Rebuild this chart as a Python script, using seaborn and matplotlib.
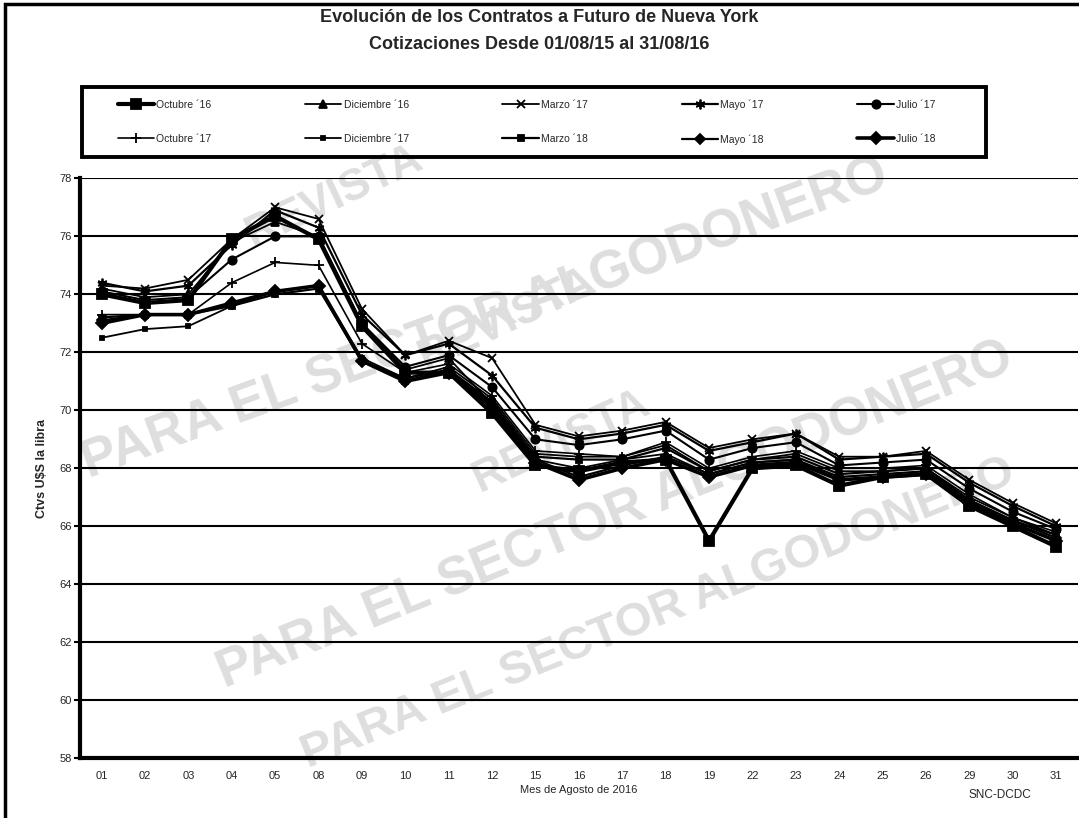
import pandas as pd
import matplotlib.pyplot as plt
import matplotlib.patches as mpatches
import seaborn as sns

# Días hábiles de agosto 2016
dias = ["01", "02", "03", "04", "05", "08", "09", "10", "11", "12", "15", "16",
        "17", "18", "19", "22", "23", "24", "25", "26", "29", "30", "31"]

octubre_16 = [74.0, 73.7, 73.8, 75.9, 76.7, 75.9, 72.9, 71.3, 71.3, 69.9, 68.1, 67.9,
              68.2, 68.3, 65.5, 68.0, 68.1, 67.4, 67.7, 67.8, 66.7, 66.0, 65.3]
diciembre_16 = [74.2, 73.9, 74.0, 75.8, 76.5, 76.0, 73.0, 71.4, 71.8, 70.2, 68.3, 68.0,
                68.3, 68.5, 67.8, 68.2, 68.3, 67.6, 67.7, 67.8, 66.8, 66.1, 65.5]
marzo_17 = [74.3, 74.2, 74.5, 75.9, 77.0, 76.6, 73.5, 71.9, 72.4, 71.8, 69.5, 69.1,
            69.3, 69.6, 68.7, 69.0, 69.2, 68.4, 68.4, 68.6, 67.6, 66.8, 66.1]
mayo_17 = [74.4, 74.1, 74.3, 75.7, 76.9, 76.3, 73.3, 71.9, 72.3, 71.2, 69.4, 69.0,
           69.2, 69.5, 68.6, 68.9, 69.2, 68.3, 68.4, 68.5, 67.5, 66.7, 66.0]
julio_17 = [74.1, 73.8, 73.9, 75.2, 76.0, 76.0, 73.0, 71.5, 71.9, 70.8, 69.0, 68.8,
            69.0, 69.3, 68.3, 68.7, 68.9, 68.1, 68.2, 68.3, 67.3, 66.5, 65.9]
octubre_17 = [73.3, 73.3, 73.3, 74.4, 75.1, 75.0, 72.3, 71.3, 71.6, 70.5, 68.6, 68.5,
              68.4, 68.9, 68.0, 68.4, 68.6, 68.0, 68.0, 68.1, 67.1, 66.3, 65.8]
diciembre_17 = [72.5, 72.8, 72.9, 73.6, 74.1, 74.3, 71.8, 71.1, 71.5, 70.4, 68.5, 68.4,
                68.4, 68.8, 67.9, 68.3, 68.5, 67.9, 67.9, 68.0, 67.0, 66.3, 65.7]
marzo_18 = [73.2, 73.3, 73.3, 73.6, 74.0, 74.2, 71.7, 71.0, 71.4, 70.3, 68.4, 68.3,
            68.3, 68.7, 67.9, 68.3, 68.4, 67.8, 67.9, 68.0, 66.9, 66.2, 65.7]
mayo_18 = [73.1, 73.3, 73.3, 73.7, 74.1, 74.3, 71.7, 71.1, 71.4, 70.2, 68.3, 67.7,
           68.1, 68.4, 67.8, 68.2, 68.3, 67.7, 67.8, 67.9, 66.9, 66.2, 65.6]
julio_18 = [73.0, 73.3, 73.3, 73.7, 74.1, 74.3, 71.7, 71.0, 71.3, 70.1, 68.2, 67.6,
            68.0, 68.3, 67.7, 68.1, 68.2, 67.6, 67.7, 67.8, 66.8, 66.1, 65.5]

series = {
    "Octubre ´16": octubre_16, "Diciembre ´16": diciembre_16, "Marzo ´17": marzo_17,
    "Mayo ´17": mayo_17, "Julio ´17": julio_17, "Octubre ´17": octubre_17,
    "Diciembre ´17": diciembre_17, "Marzo ´18": marzo_18, "Mayo ´18": mayo_18,
    "Julio ´18": julio_18,
}

# estilo de cada contrato: marcador, tamaño, grosor de linea
estilos = {
    "Octubre ´16": ("s", 7, 3.0),
    "Diciembre ´16": ("^", 6, 1.3),
    "Marzo ´17": ("x", 6, 1.3),
    "Mayo ´17": ((6, 2, 0), 7, 1.6),
    "Julio ´17": ("o", 6, 1.5),
    "Octubre ´17": ("+", 7, 1.2),
    "Diciembre ´17": ("s", 3, 1.3),
    "Marzo ´18": ("s", 4, 1.6),
    "Mayo ´18": ("D", 5, 1.6),
    "Julio ´18": ("D", 6, 2.6),
}

sns.set_style("white")
plt.rcParams["font.family"] = ["Liberation Sans", "DejaVu Sans"]

fig = plt.figure(figsize=(10.79, 8.18), dpi=100)
ax = fig.add_axes([0.074, 0.073, 0.925, 0.709])
ax.set_facecolor("none")

# marcas de agua (debajo de las lineas)
for (x, y, t, s, r) in [
    (0.31, 0.76, "REVISTA", 32, 25),
    (0.45, 0.61, "PARA EL SECTOR ALGODONERO", 38, 20),
    (0.47, 0.61, "REVISTA", 32, 25),
    (0.57, 0.37, "PARA EL SECTOR ALGODONERO", 38, 22),
    (0.52, 0.46, "REVISTA", 32, 25),
    (0.61, 0.25, "PARA EL SECTOR ALGODONERO", 34, 22),
]:
    fig.text(x, y, t, fontsize=s, rotation=r, color="#dedede", fontweight="bold",
             ha="center", va="center", zorder=-1)

for nombre, valores in series.items():
    m, ms, lw = estilos[nombre]
    df = pd.DataFrame({"dia": dias, "valor": valores})
    sns.lineplot(data=df, x="dia", y="valor", ax=ax, color="black", linewidth=lw,
                 marker=m, markersize=ms, markeredgecolor="black",
                 markeredgewidth=1.3, sort=False, label=nombre, zorder=3)

ax.set_xlim(-0.5, len(dias) - 0.5)
ax.set_ylim(58, 78)
ax.set_yticks(range(58, 79, 2))
ax.yaxis.grid(True, color="black", linewidth=1.5)
ax.xaxis.grid(False)
ax.set_xticks(range(len(dias)))
ax.set_xticklabels(dias, fontsize=8)
ax.set_xticks([i - 0.5 for i in range(len(dias) + 1)], minor=True)
ax.tick_params(axis="x", which="major", length=0, pad=9)
ax.tick_params(axis="x", which="minor", length=4, width=1.5, color="black", direction="out")
ax.tick_params(axis="y", labelsize=8, length=4, width=1.5, color="black", left=True, pad=2)
for lado in ["top", "right"]:
    ax.spines[lado].set_visible(False)
ax.spines["left"].set_linewidth(3)
ax.spines["bottom"].set_linewidth(3)
ax.spines["left"].set_color("black")
ax.spines["bottom"].set_color("black")
ax.set_xlabel("Mes de Agosto de 2016", fontsize=8, labelpad=3)
ax.set_ylabel("Ctvs U$S la libra", fontsize=9, fontweight="bold", labelpad=8)

# leyenda en filas, con marco aparte
handles, labels = ax.get_legend_handles_labels()
ax.get_legend().remove()
orden = [0, 5, 1, 6, 2, 7, 3, 8, 4, 9]
leg = fig.legend([handles[i] for i in orden], [labels[i] for i in orden],
                 loc="center", bbox_to_anchor=(0.109, 0.808, 0.758, 0.0856),
                 mode="expand", ncol=5, fontsize=7.5, frameon=False,
                 handlelength=3.5, handletextpad=0.2, borderpad=0,
                 borderaxespad=0, labelspacing=2.3)
fig.patches.append(mpatches.Rectangle((0.076, 0.808), 0.838, 0.0856, transform=fig.transFigure,
                                      fill=False, edgecolor="black", linewidth=2.8))

# titulo en dos lineas
fig.text(0.5, 0.979, "Evolución de los Contratos a Futuro de Nueva York",
         fontsize=13, fontweight="bold", ha="center", va="center")
fig.text(0.5, 0.946, "Cotizaciones Desde 01/08/15 al 31/08/16",
         fontsize=13, fontweight="bold", ha="center", va="center")
fig.text(0.927, 0.024, "SNC-DCDC", fontsize=8.5, ha="center")

# marco exterior
fig.patches.append(mpatches.Rectangle((0.005, -0.01), 1.0, 1.005, transform=fig.transFigure,
                                      fill=False, edgecolor="black", linewidth=2.5))

fig.savefig("out.png", dpi=100)
